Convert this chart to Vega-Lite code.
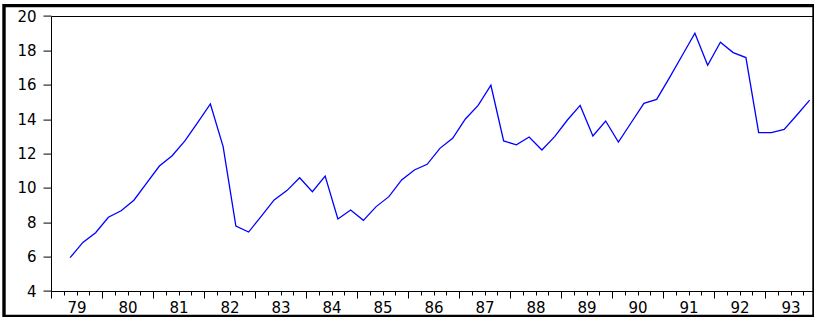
{
  "$schema": "https://vega.github.io/schema/vega-lite/v6.json",
  "autosize": "none",
  "width": 810,
  "height": 310.9,
  "padding": {"left": 4, "top": 5.6, "right": 0, "bottom": 0},
  "background": "white",
  "config": {
    "view": {"stroke": "black", "strokeWidth": 3.4, "fill": "white"},
    "axis": {
      "domainColor": "black",
      "tickColor": "black",
      "labelColor": "black",
      "labelFont": "DejaVu Sans",
      "labelFontSize": 15,
      "grid": false,
      "domainWidth": 1,
      "tickWidth": 1
    }
  },
  "data": {
    "values": [
      {"t": 1979.375, "v": 5.94},
      {"t": 1979.625, "v": 6.83},
      {"t": 1979.875, "v": 7.39},
      {"t": 1980.125, "v": 8.29},
      {"t": 1980.375, "v": 8.67},
      {"t": 1980.625, "v": 9.28},
      {"t": 1980.875, "v": 10.28},
      {"t": 1981.125, "v": 11.27},
      {"t": 1981.375, "v": 11.87},
      {"t": 1981.625, "v": 12.73},
      {"t": 1981.875, "v": 13.79},
      {"t": 1982.125, "v": 14.88},
      {"t": 1982.375, "v": 12.4},
      {"t": 1982.625, "v": 7.78},
      {"t": 1982.875, "v": 7.43},
      {"t": 1983.125, "v": 8.36},
      {"t": 1983.375, "v": 9.3},
      {"t": 1983.625, "v": 9.84},
      {"t": 1983.875, "v": 10.59},
      {"t": 1984.125, "v": 9.78},
      {"t": 1984.375, "v": 10.69},
      {"t": 1984.625, "v": 8.19},
      {"t": 1984.875, "v": 8.71},
      {"t": 1985.125, "v": 8.11},
      {"t": 1985.375, "v": 8.91},
      {"t": 1985.625, "v": 9.49},
      {"t": 1985.875, "v": 10.46},
      {"t": 1986.125, "v": 11.04},
      {"t": 1986.375, "v": 11.37},
      {"t": 1986.625, "v": 12.3},
      {"t": 1986.875, "v": 12.88},
      {"t": 1987.125, "v": 14.01},
      {"t": 1987.375, "v": 14.8},
      {"t": 1987.625, "v": 15.97},
      {"t": 1987.875, "v": 12.73},
      {"t": 1988.125, "v": 12.5},
      {"t": 1988.375, "v": 12.96},
      {"t": 1988.625, "v": 12.2},
      {"t": 1988.875, "v": 12.98},
      {"t": 1989.125, "v": 13.95},
      {"t": 1989.375, "v": 14.8},
      {"t": 1989.625, "v": 13.02},
      {"t": 1989.875, "v": 13.89},
      {"t": 1990.125, "v": 12.67},
      {"t": 1990.375, "v": 13.79},
      {"t": 1990.625, "v": 14.92},
      {"t": 1990.875, "v": 15.15},
      {"t": 1991.125, "v": 16.4},
      {"t": 1991.375, "v": 17.7},
      {"t": 1991.625, "v": 19.0},
      {"t": 1991.875, "v": 17.13},
      {"t": 1992.125, "v": 18.47},
      {"t": 1992.375, "v": 17.87},
      {"t": 1992.625, "v": 17.58},
      {"t": 1992.875, "v": 13.21},
      {"t": 1993.125, "v": 13.21},
      {"t": 1993.375, "v": 13.4},
      {"t": 1993.625, "v": 14.24},
      {"t": 1993.875, "v": 15.11}
    ]
  },
  "layer": [
    {
      "mark": {"type": "line", "color": "#0000FF", "strokeOpacity": 0},
      "encoding": {
        "x": {
          "field": "t",
          "type": "quantitative",
          "scale": {"domain": [1979, 1993.96], "nice": false, "zero": false, "range": [47, 810]},
          "axis": {
            "orient": "top",
            "title": null,
            "offset": -10.4,
            "ticks": false,
            "labels": false
          }
        },
        "y": {
          "field": "v",
          "type": "quantitative",
          "scale": {"domain": [4, 20], "nice": false, "zero": false, "range": [285.4, 10.4]},
          "axis": {
            "orient": "left",
            "title": null,
            "offset": -47,
            "values": [4, 6, 8, 10, 12, 14, 16, 18, 20],
            "tickSize": 8,
            "labelPadding": 7
          }
        }
      }
    },
    {
      "mark": {"type": "line", "color": "#0000FF", "strokeWidth": 1.3},
      "encoding": {
        "x": {
          "field": "t",
          "type": "quantitative",
          "scale": {"domain": [1979, 1993.96], "nice": false, "zero": false, "range": [47, 810]},
          "axis": {
            "orient": "bottom",
            "title": null,
            "offset": -25.5,
            "values": [1979, 1979.25, 1979.5, 1979.75, 1980, 1980.25, 1980.5, 1980.75, 1981, 1981.25, 1981.5, 1981.75, 1982, 1982.25, 1982.5, 1982.75, 1983, 1983.25, 1983.5, 1983.75, 1984, 1984.25, 1984.5, 1984.75, 1985, 1985.25, 1985.5, 1985.75, 1986, 1986.25, 1986.5, 1986.75, 1987, 1987.25, 1987.5, 1987.75, 1988, 1988.25, 1988.5, 1988.75, 1989, 1989.25, 1989.5, 1989.75, 1990, 1990.25, 1990.5, 1990.75, 1991, 1991.25, 1991.5, 1991.75, 1992, 1992.25, 1992.5, 1992.75, 1993, 1993.25, 1993.5, 1993.75],
            "tickSize": {"condition": {"test": "datum.value % 1 === 0", "value": 7}, "value": 4},
            "labelExpr": "datum.value % 1 === 0.5 ? format(floor(datum.value) % 100, 'd') : ''",
            "labelPadding": 5,
            "labelOverlap": false,
            "labelFlush": false
          }
        },
        "y": {
          "field": "v",
          "type": "quantitative",
          "scale": {"domain": [4, 20], "nice": false, "zero": false, "range": [285.4, 10.4]},
          "axis": {
            "orient": "left",
            "title": null,
            "offset": -47,
            "values": [4, 6, 8, 10, 12, 14, 16, 18, 20],
            "tickSize": 8,
            "labelPadding": 7
          }
        }
      }
    }
  ],
  "resolve": {"axis": {"x": "independent"}}
}
